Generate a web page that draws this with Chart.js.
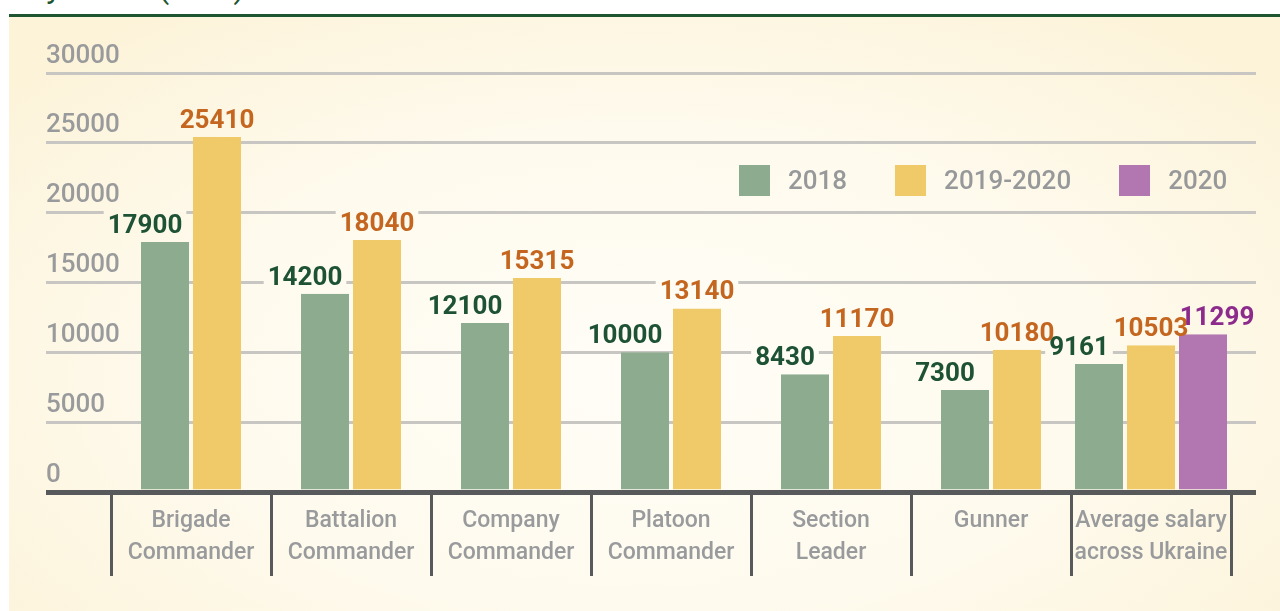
<!DOCTYPE html>
<html>
<head>
<meta charset="utf-8">
<script src="https://cdn.jsdelivr.net/npm/chart.js@4.4.1/dist/chart.umd.min.js"></script>
<style>
  html, body { margin: 0; padding: 0; width: 1280px; height: 611px; overflow: hidden; background: #fff; font-family: Roboto, sans-serif; }
  #title { position: absolute; left: 9px; top: 0; width: 1271px; height: 14px; overflow: hidden; }
  #title span { position: absolute; left: 0; top: -29px; font-size: 32px; line-height: 32px; color: #1e5631; white-space: nowrap; }
  #rule { position: absolute; left: 9px; top: 14px; right: 0; height: 3px; background: #1e5631; }
  #panel { position: absolute; left: 9px; top: 17px; right: 0; bottom: 0;
    background: radial-gradient(ellipse 65% 75% at 50% 60%, #fffdf7 0%, #fefaed 55%, #fcf3d9 100%); }
  canvas { position: absolute; left: 0; top: 0; }
  #legend { position: absolute; left: 739px; top: 165px; display: flex; }
  .item { display: flex; align-items: center; margin-right: 48px; }
  .box { width: 31px; height: 31px; }
  .txt { margin-left: 18px; font-size: 26px; font-weight: 500; line-height: 31px; color: #97989a; }
</style>
</head>
<body>
<div id="title"><span>Pay levels (UAH)</span></div>
<div id="rule"></div>
<div id="panel"></div>
<canvas id="salaryChart" width="1280" height="611"></canvas>
<div id="legend"></div>
<script>
const categories = [
  ['Brigade', 'Commander'],
  ['Battalion', 'Commander'],
  ['Company', 'Commander'],
  ['Platoon', 'Commander'],
  ['Section', 'Leader'],
  'Gunner',
  ['Average salary', 'across Ukraine']
];
const seriesNames = ['2018', '2019-2020', '2020'];
const values2018 = [17900, 14200, 12100, 10000, 8430, 7300, 9161];
const values2019 = [25410, 18040, 15315, 13140, 11170, 10180, 10503];
const values2020 = [null, null, null, null, null, null, 11299];
const yTicks = [0, 5000, 10000, 15000, 20000, 25000, 30000];

const barColors = ['#8cab8f', '#f0c968', '#b277b1'];
const labelColors = ['#1d5235', '#c4661f', '#8d2b8d'];
const labelShift = [-20, 0, 14];

// legend (html, built from the same names/colours)
const legend = document.getElementById('legend');
seriesNames.forEach((name, i) => {
  const item = document.createElement('div');
  item.className = 'item';
  item.innerHTML = `<div class="box" style="background:${barColors[i]}"></div><div class="txt">${name}</div>`;
  legend.appendChild(item);
});

// value labels; before the bars we punch a hole in the gridlines behind each label
function drawValueLabels(chart, boxes) {
  const ctx = chart.ctx;
  ctx.save();
  ctx.font = 'bold 26px Roboto';
  ctx.textAlign = 'center';
  ctx.textBaseline = 'alphabetic';
  chart.data.datasets.forEach((ds, i) => {
    chart.getDatasetMeta(i).data.forEach((bar, j) => {
      const v = ds.data[j];
      if (v == null) return;
      const text = String(v);
      const x = bar.x + labelShift[i];
      const y = bar.y - 9;
      if (boxes) {
        const w = ctx.measureText(text).width;
        ctx.globalCompositeOperation = 'destination-out';
        ctx.fillStyle = '#000';
        ctx.fillRect(x - w / 2 - 4, y - 24, w + 8, 30);
      } else {
        ctx.fillStyle = labelColors[i];
        ctx.fillText(text, x, y);
      }
    });
  });
  ctx.restore();
}

const valueLabels = {
  id: 'valueLabels',
  beforeDatasetsDraw(chart) { drawValueLabels(chart, true); },
  afterDatasetsDraw(chart) { drawValueLabels(chart, false); }
};

const gridColor = c => (c.tick && c.tick.value === 0) ? '#58595b' : '#c8c6c2';
const gridWidth = c => (c.tick && c.tick.value === 0) ? 5 : 3;

const barStyle = {
  barThickness: 52,
  borderWidth: { left: 2, right: 2, top: 0, bottom: 0 },
  borderColor: 'rgba(0,0,0,0)',
  inflateAmount: 0,
  skipNull: true
};

new Chart(document.getElementById('salaryChart').getContext('2d'), {
  type: 'bar',
  data: {
    labels: categories,
    datasets: [
      { label: seriesNames[0], data: values2018, backgroundColor: barColors[0], ...barStyle },
      { label: seriesNames[1], data: values2019, backgroundColor: barColors[1], ...barStyle },
      { label: seriesNames[2], data: values2020, backgroundColor: barColors[2], ...barStyle }
    ]
  },
  options: {
    responsive: false,
    animation: false,
    devicePixelRatio: 1,
    layout: { padding: { left: 46, right: 24, top: 73, bottom: 35 } },
    plugins: { legend: { display: false }, tooltip: { enabled: false } },
    scales: {
      x: {
        afterFit: s => { s.height = 84; },
        border: { display: true, color: '#58595b', width: 5, z: 1 },
        grid: { offset: true, drawOnChartArea: false, tickLength: 84, color: '#58595b', lineWidth: 3 },
        ticks: {
          autoSkip: false, maxRotation: 0, padding: -71, color: '#999a9c',
          font: { family: 'Roboto', size: 23, weight: '500', lineHeight: '32px' }
        }
      },
      y: {
        min: 0, max: 30000,
        afterBuildTicks: s => { s.ticks = yTicks.map(v => ({ value: v })); },
        afterFit: s => { s.width = 65; },
        border: { display: false },
        grid: { color: gridColor, lineWidth: gridWidth, tickLength: 65 },
        ticks: {
          mirror: true, padding: -65, labelOffset: -17, color: '#999a9c',
          font: { family: 'Roboto', size: 26, weight: '500' },
          callback: v => String(v)
        }
      },
      y2: {
        position: 'right',
        min: 0, max: 30000,
        afterBuildTicks: s => { s.ticks = yTicks.map(v => ({ value: v })); },
        afterFit: s => { s.width = 25; },
        border: { display: false },
        grid: { color: gridColor, lineWidth: gridWidth, tickLength: 25, drawOnChartArea: false },
        ticks: { display: false }
      }
    }
  },
  plugins: [valueLabels]
});
</script>
</body>
</html>
